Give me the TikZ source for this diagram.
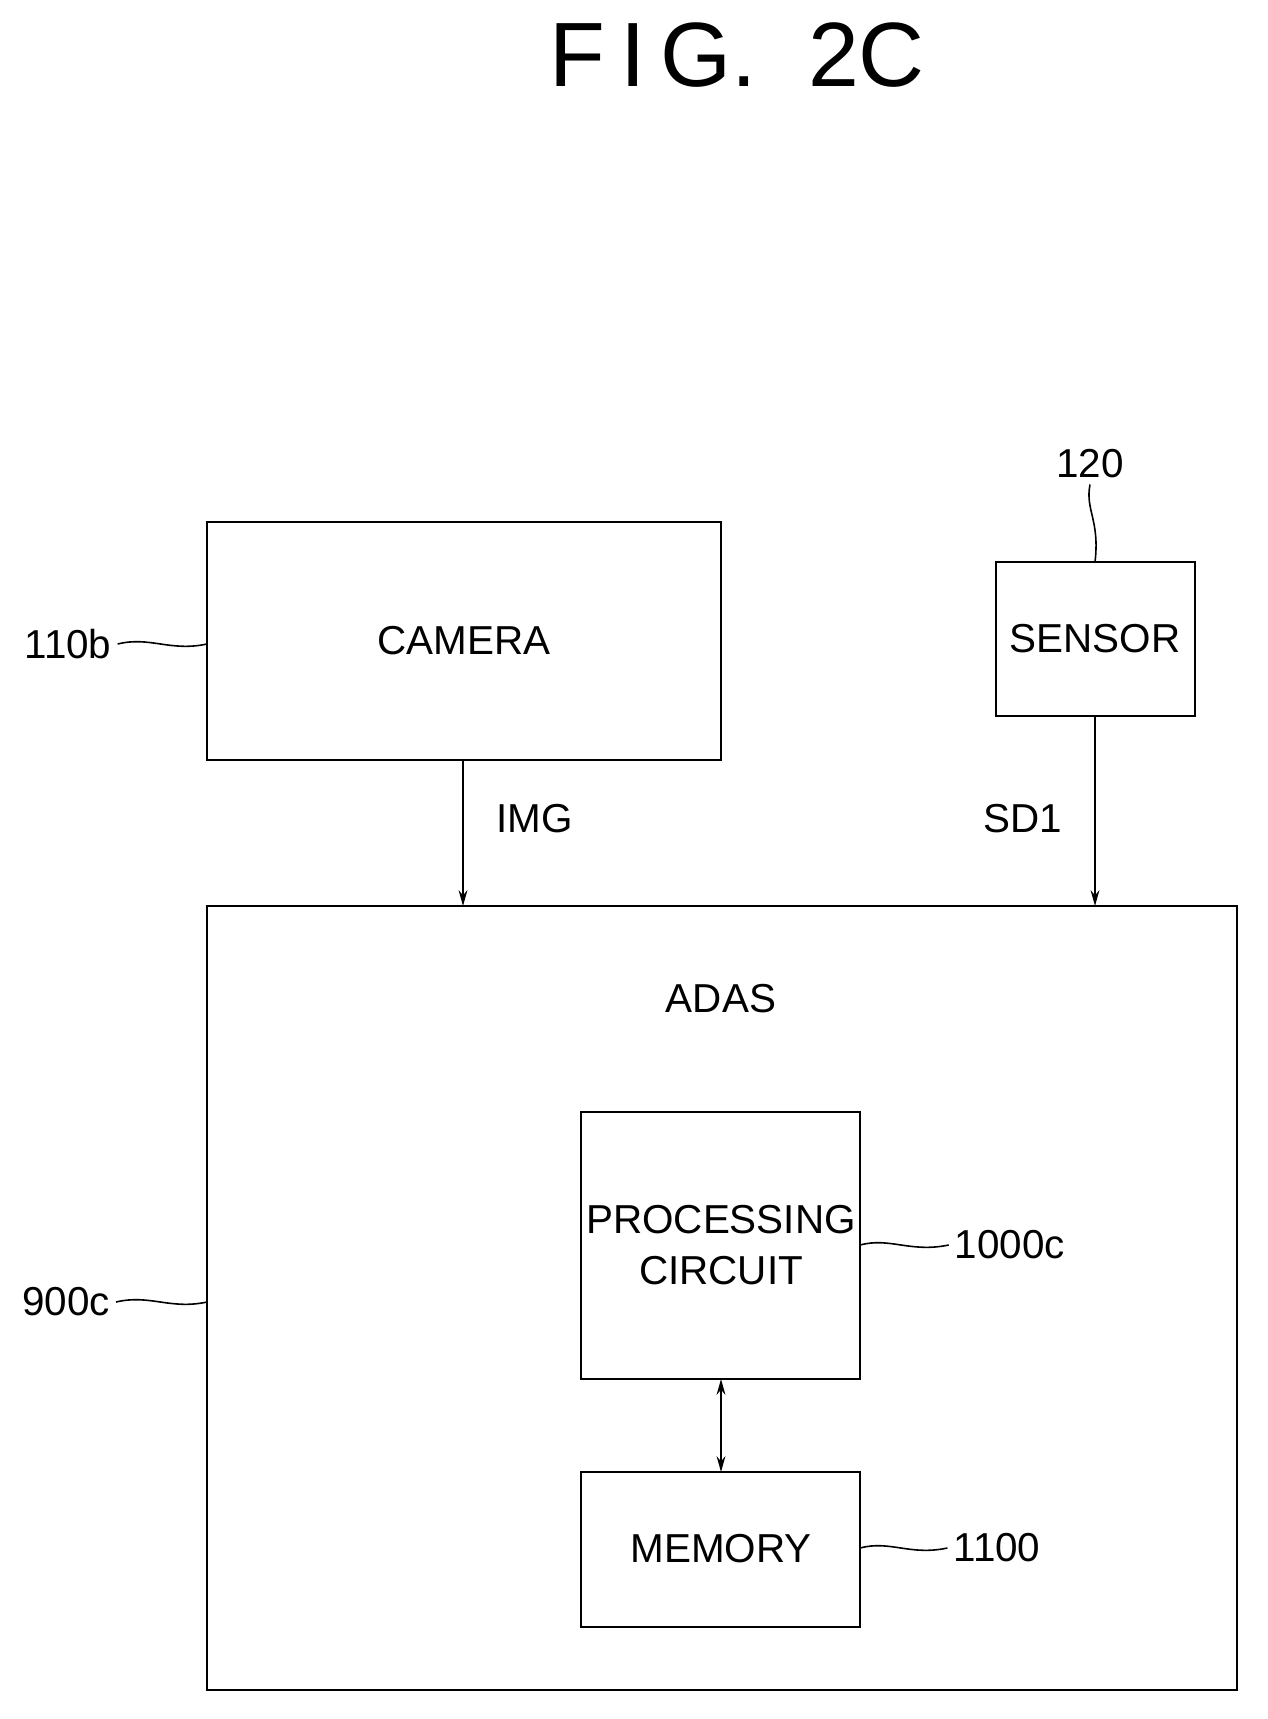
\documentclass[tikz,border=0pt]{standalone}
\usepackage{fontspec}
\setmainfont{Liberation Sans}
\usetikzlibrary{arrows.meta}
\begin{document}
\begin{tikzpicture}[x=0.02cm,y=-0.02cm,
    blk/.style={draw,line width=1.2pt,inner sep=0pt},
    txt/.style={font=\fontsize{23}{29}\selectfont,align=center},
    sig/.style={line width=1.1pt,-{Stealth[length=9pt,width=5pt]}},
    lead/.style={line width=0.9pt}]
                \useasboundingbox (0,0) rectangle (1267,1719);
                \node[font=\fontsize{52}{60}\selectfont] (title) at (737,55) {F\,I\,G.\ \ 2C};

                % outer blocks
                \draw[blk] (207,522) rectangle (721,760);
                \node[txt] (camera) at (464,641) {CAMERA};
                \draw[blk] (996,562) rectangle (1195,716);
                \node[txt] (sensor) at (1095,639) {SENSOR};
                \draw[blk] (207,906) rectangle (1237,1690);
                \node[txt] (adas) at (721,999) {ADAS};

                % inner blocks
                \draw[blk] (581,1112) rectangle (860,1379);
                \node[txt] (proc) at (721,1245) {PROCESSING\\CIRCUIT};
                \draw[blk] (581,1472) rectangle (860,1627);
                \node[txt] (mem) at (721,1549) {MEMORY};

                \coordinate (camB) at (463,760);
                \coordinate (adasC) at (463,906);
                \coordinate (senB) at (1095,716);
                \coordinate (adasS) at (1095,906);
                \coordinate (procB) at (721,1379);
                \coordinate (memT) at (721,1472);
                \draw[sig] (camB) -- (adasC);
                \draw[sig] (senB) -- (adasS);
                \draw[sig,{Stealth[length=9pt,width=5pt]}-{Stealth[length=9pt,width=5pt]}] (procB) -- (memT);
                \node[txt,anchor=west] (img) at (490,819) {IMG};
                \node[txt,anchor=east] (sd) at (1068,819) {SD1};

                % reference numerals
                \node[txt] (n120) at (1090,464) {120};
                \node[txt] (n110) at (68,644) {110b};
                \node[txt] (n900) at (66,1302) {900c};
                \node[txt] (n1000) at (1010,1245) {1000c};
                \node[txt] (n1100) at (997,1548) {1100};
                \coordinate (camW) at (207,644);
                \coordinate (senT) at (1095,562);
                \coordinate (adasW) at (207,1302);
                \coordinate (procE) at (860,1245);
                \coordinate (memE) at (860,1548);
                \draw[lead] (n120.south) .. controls (1085,510) and (1100,520) .. (senT);
                \draw[lead] (n110.east) .. controls (150,636) and (170,652) .. (camW);
                \draw[lead] (n900.east) .. controls (150,1294) and (170,1310) .. (adasW);
                \draw[lead] (procE) .. controls (890,1237) and (910,1253) .. (n1000.west);
                \draw[lead] (memE) .. controls (890,1540) and (910,1556) .. (n1100.west);
\end{tikzpicture}
\end{document}
